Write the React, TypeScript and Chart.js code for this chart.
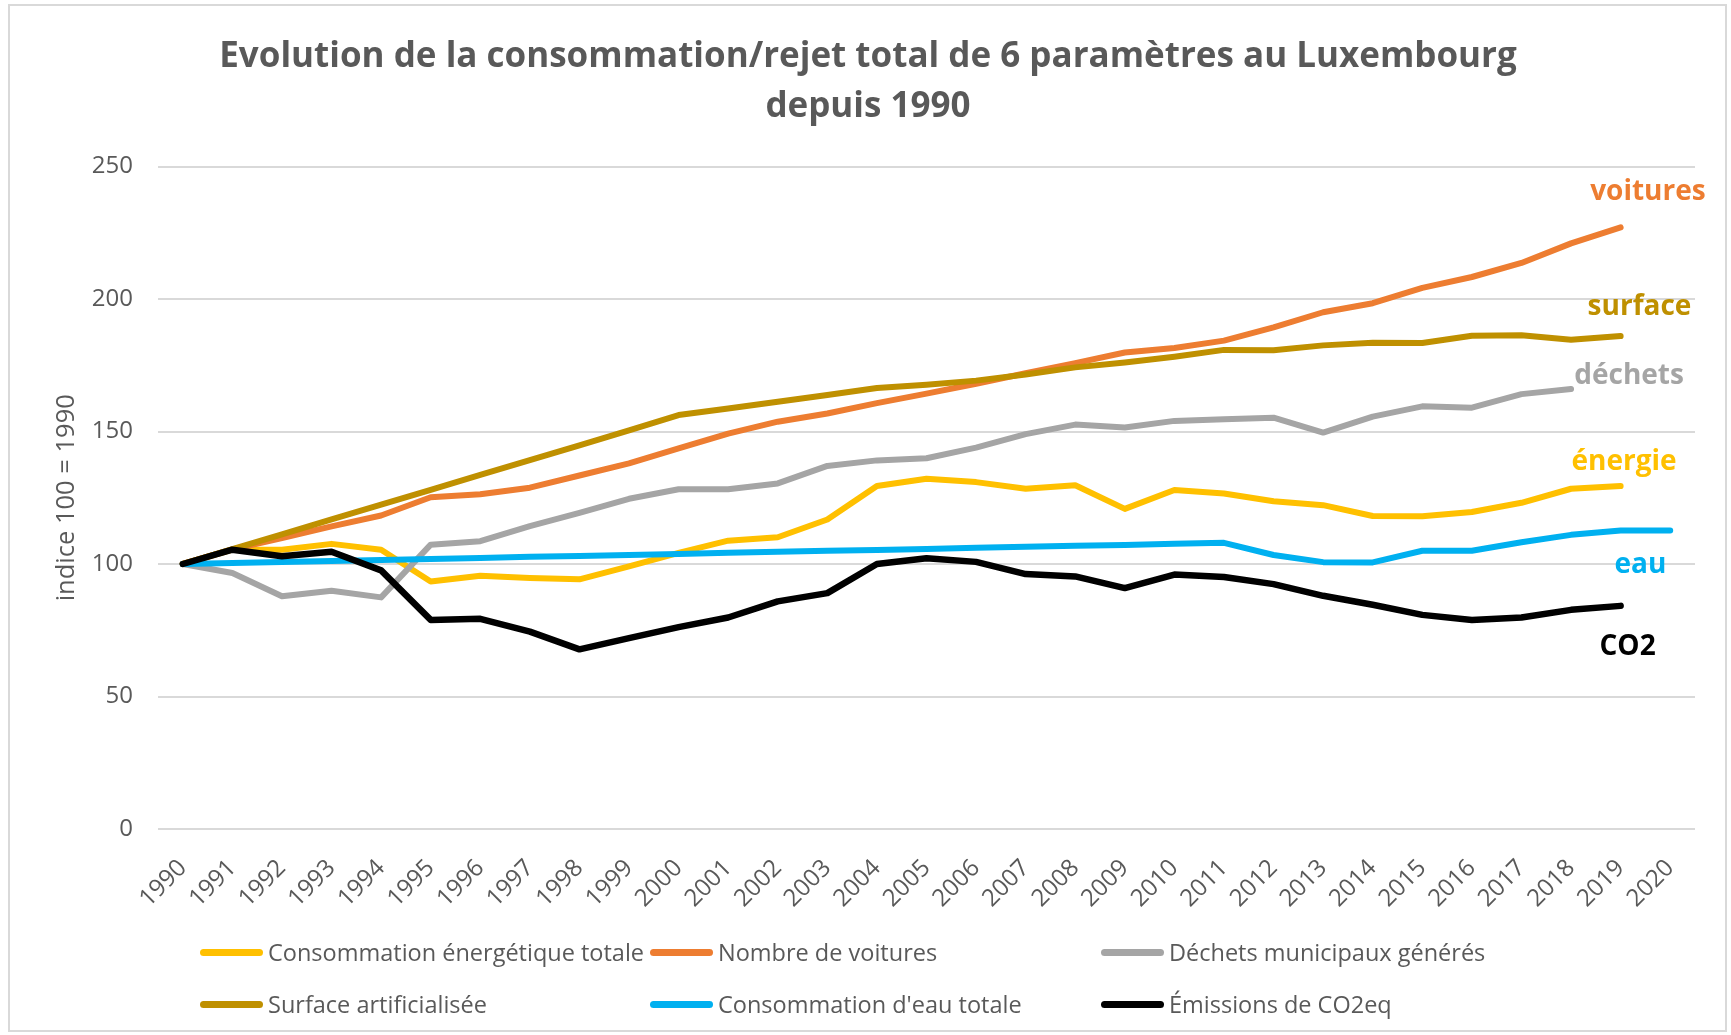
import React, { useEffect, useRef } from 'react';
import { Chart, registerables } from 'chart.js';

Chart.register(...registerables);

const years = [
  '1990', '1991', '1992', '1993', '1994', '1995', '1996', '1997', '1998', '1999',
  '2000', '2001', '2002', '2003', '2004', '2005', '2006', '2007', '2008', '2009',
  '2010', '2011', '2012', '2013', '2014', '2015', '2016', '2017', '2018', '2019', '2020',
];

const energie = [
  100, 105.4, 105.4, 107.6, 105.4, 93.4, 95.6, 94.7, 94.2, 99.1,
  104.2, 108.8, 110.1, 116.8, 129.4, 132.2, 130.9, 128.4, 129.7, 120.8,
  127.9, 126.6, 123.7, 122.2, 118.1, 118.0, 119.6, 123.1, 128.4, 129.4, null,
];

const voitures = [
  100, 105.5, 109.8, 114.2, 118.3, 125.2, 126.3, 128.8, 133.4, 138.0,
  143.6, 149.2, 153.7, 156.8, 160.7, 164.3, 168.0, 172.0, 175.8, 179.8,
  181.5, 184.3, 189.3, 195.0, 198.4, 204.2, 208.3, 213.6, 221.0, 227.0, null,
];

const dechets = [
  100, 96.6, 87.8, 89.9, 87.4, 107.3, 108.6, 114.3, 119.3, 124.6,
  128.2, 128.2, 130.4, 137.0, 139.1, 139.9, 143.9, 149.0, 152.6, 151.5,
  154.0, 154.6, 155.2, 149.6, 155.6, 159.5, 159.0, 164.1, 166.0, null, null,
];

const surface = [
  100, 105.6, 111.2, 116.8, 122.4, 128.0, 133.6, 139.2, 144.8, 150.4,
  156.2, 158.7, 161.2, 163.8, 166.4, 167.6, 169.2, 171.5, 174.2, 176.0,
  178.2, 180.8, 180.7, 182.5, 183.5, 183.4, 186.1, 186.3, 184.6, 186.0, null,
];

const eau = [
  100, 100.4, 100.8, 101.1, 101.5, 101.9, 102.3, 102.7, 103.0, 103.4,
  103.8, 104.2, 104.6, 105.0, 105.3, 105.7, 106.1, 106.5, 106.9, 107.2,
  107.6, 108.0, 103.4, 100.7, 100.6, 105.0, 105.0, 108.2, 111.0, 112.6, 112.6,
];

const co2 = [
  100, 105.4, 102.9, 104.6, 97.6, 78.9, 79.3, 74.5, 67.8, 72.0,
  76.2, 79.8, 85.9, 89.0, 100.0, 102.2, 100.8, 96.2, 95.3, 90.9,
  96.0, 95.1, 92.4, 88.0, 84.6, 80.8, 78.9, 79.8, 82.7, 84.2, null,
];

const seriesLabels = [
  'Consommation énergétique totale',
  'Nombre de voitures',
  'Déchets municipaux générés',
  'Surface artificialisée',
  "Consommation d'eau totale",
  'Émissions de CO2eq',
];
const seriesData = [energie, voitures, dechets, surface, eau, co2];
const seriesColors = ['#FFC000', '#ED7D31', '#A5A5A5', '#BF9000', '#00B0F0', '#000000'];

const endLabels = ['voitures', 'surface', 'déchets', 'énergie', 'eau', 'CO2'];
const endLabelColors = ['#ED7D31', '#BF9000', '#A5A5A5', '#FFC000', '#00B0F0', '#000000'];
const endLabelX = [29.55, 29.38, 29.17, 29.07, 29.4, 29.14];
const endLabelY = [237.4, 193.8, 167.9, 135.6, 96.6, 65.8];

const titleLines = [
  'Evolution de la consommation/rejet total de 6 paramètres au Luxembourg',
  'depuis 1990',
];
const yAxisTitle = 'indice 100 = 1990';
const yMin = 0;
const yMax = 250;
const yStep = 50;

const W = 1731;
const H = 1035;
const FONT = "'Open Sans', sans-serif";
const TEXT = '#595959';

const legendColX = [200, 650, 1101];
const legendRowY = [952, 1004];

const endLabelPlugin = {
  id: 'endLabels',
  afterDatasetsDraw(chart: any) {
    const { ctx, scales } = chart;
    const x = scales.x;
    const y = scales.y;
    ctx.save();
    ctx.font = `bold 28px ${FONT}`;
    ctx.textAlign = 'center';
    ctx.textBaseline = 'alphabetic';
    endLabels.forEach((t, i) => {
      ctx.fillStyle = endLabelColors[i];
      ctx.fillText(t, x.getPixelForValue(endLabelX[i]), y.getPixelForValue(endLabelY[i]));
    });
    ctx.restore();
  },
};

export default function App() {
  const ref = useRef<HTMLCanvasElement | null>(null);

  useEffect(() => {
    if (!ref.current) return;
    const chart = new Chart(ref.current, {
      type: 'line',
      data: {
        labels: years,
        datasets: seriesLabels.map((label, i) => ({
          label,
          data: seriesData[i],
          borderColor: seriesColors[i],
          backgroundColor: seriesColors[i],
          borderWidth: i === 5 ? 6.5 : 6,
          pointRadius: 0,
          pointHoverRadius: 0,
          tension: 0,
          fill: false,
          spanGaps: false,
          borderCapStyle: 'round',
          borderJoinStyle: 'round',
          order: 6 - i,
        })),
      },
      options: {
        responsive: false,
        animation: false,
        maintainAspectRatio: false,
        layout: { padding: { left: 0, right: 36, top: 166.5, bottom: 0 } },
        plugins: {
          legend: { display: false },
          title: { display: false },
          tooltip: { enabled: false },
        },
        scales: {
          x: {
            type: 'category',
            offset: true,
            grid: { display: false, drawTicks: false },
            border: { display: false },
            ticks: {
              autoSkip: false,
              maxRotation: 45,
              minRotation: 45,
              padding: 25,
              color: TEXT,
              font: { family: FONT, size: 24 },
            },
            afterFit(scale: any) {
              scale.height = 206;
            },
          },
          y: {
            min: yMin,
            max: yMax,
            grid: { color: '#D9D9D9', lineWidth: 2, drawTicks: false },
            border: { display: false },
            ticks: {
              stepSize: yStep,
              padding: 25,
              color: TEXT,
              font: { family: FONT, size: 24 },
            },
            title: {
              display: true,
              text: yAxisTitle,
              color: TEXT,
              font: { family: FONT, size: 25.5 },
              padding: { top: 51, bottom: 0 },
            },
            afterFit(scale: any) {
              scale.width = 158;
            },
          },
        },
      },
      plugins: [endLabelPlugin],
    } as any);
    return () => chart.destroy();
  }, []);

  return (
    <div
      style={{
        position: 'absolute',
        left: 0,
        top: 0,
        width: W,
        height: H,
        background: '#fff',
        overflow: 'hidden',
        fontFamily: FONT,
      }}
    >
      <div
        style={{
          position: 'absolute',
          left: 8,
          top: 4,
          width: 1719,
          height: 1028,
          border: '2px solid #D9D9D9',
          boxSizing: 'border-box',
        }}
      />
      <canvas ref={ref} width={W} height={H} style={{ position: 'absolute', left: 0, top: 0, width: W, height: H }} />
      <div
        style={{
          position: 'absolute',
          left: 0,
          top: 29.4,
          width: 1736,
          textAlign: 'center',
          fontWeight: 700,
          fontSize: 35,
          lineHeight: '50px',
          color: TEXT,
        }}
      >
        {titleLines.map((t) => (
          <div key={t}>{t}</div>
        ))}
      </div>
      {seriesLabels.map((label, i) => {
        const col = i % 3;
        const row = Math.floor(i / 3);
        return (
          <div
            key={label}
            style={{
              position: 'absolute',
              left: legendColX[col],
              top: legendRowY[row] - 20,
              height: 40,
              display: 'flex',
              alignItems: 'center',
              whiteSpace: 'nowrap',
            }}
          >
            <div
              style={{
                width: 63,
                height: 7,
                borderRadius: 4,
                background: seriesColors[i],
                marginRight: 5,
              }}
            />
            <span style={{ fontSize: 23.5, color: TEXT }}>{label}</span>
          </div>
        );
      })}
    </div>
  );
}
